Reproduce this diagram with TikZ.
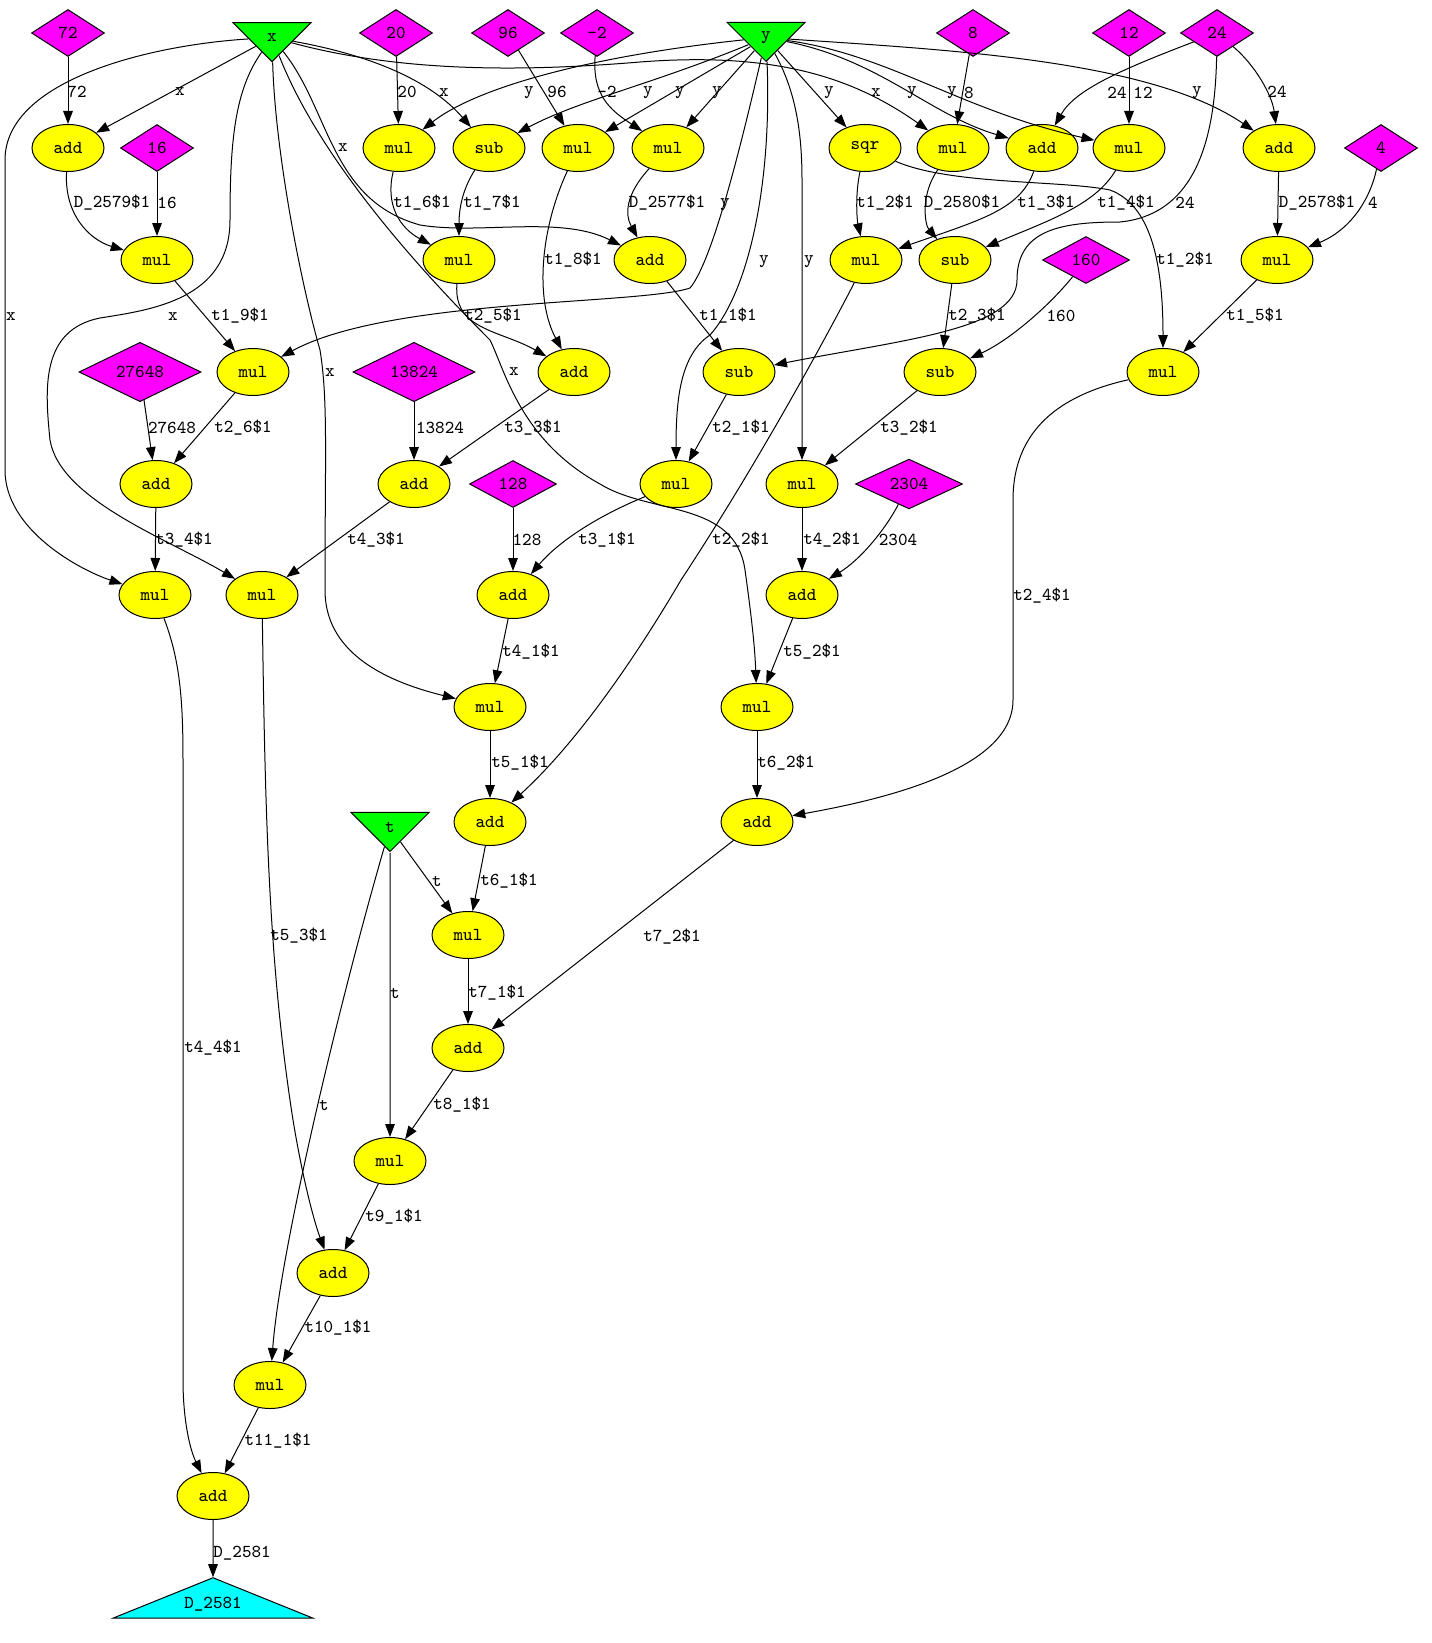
\documentclass[tikz,border=0pt]{standalone}
\usepackage{fontspec}
\usepackage{tikz}
\usetikzlibrary{shapes.geometric, arrows.meta}
\definecolor{gvyellow}{RGB}{255,255,0}
\definecolor{gvmagenta}{RGB}{255,0,255}
\definecolor{gvgreen}{RGB}{0,255,0}
\definecolor{gvcyan}{RGB}{0,255,255}
\newcommand{\gv}{\ttfamily\fontsize{9.1}{10}\selectfont}

\begin{document}
\begin{tikzpicture}
  [
    x=0.5pt, y=-0.5pt, line width=0.5pt,
    >={Triangle[length=6.5pt, width=4.8pt]},
    Op/.style={ellipse, draw=black, fill=gvyellow, minimum width=36pt, minimum height=23.5pt, inner sep=0pt, font=\gv},
    Const/.style={diamond, draw=black, fill=gvmagenta, minimum width=36.5pt, minimum height=23.5pt, inner sep=0pt, font=\gv},
    Input/.style={isosceles triangle, isosceles triangle stretches, shape border rotate=270, draw=black, fill=gvgreen, minimum width=39pt, minimum height=19.5pt, inner sep=0pt, font=\gv},
    Output/.style={isosceles triangle, isosceles triangle apex angle=136, shape border rotate=90, draw=black, fill=gvcyan, minimum width=100pt, inner sep=0pt, font=\gv},
    Lbl/.style={inner sep=0pt, font=\gv}
  ]
  \useasboundingbox (0,0) rectangle (1431,1643);
  % Nodes
  \node[Input] (x) at (272,37.5) {x};
  \node[Input] (y) at (766,37.5) {y};
  \node[Const] (c72) at (68,33) {72};
  \node[Const] (c20) at (396,33) {20};
  \node[Const] (c96) at (508,33) {96};
  \node[Const] (cm2) at (597,33) {-2};
  \node[Const] (c8) at (973,33) {8};
  \node[Const] (c12) at (1129,33) {12};
  \node[Const] (c24) at (1217,33) {24};

  \node[Op] (d2579) at (68,148) {add};
  \node[Const] (c16) at (157,148) {16};
  \node[Op] (t16) at (399,148) {mul};
  \node[Op] (t17) at (489,148) {sub};
  \node[Op] (t18) at (578,148) {mul};
  \node[Op] (d2577) at (668,148) {mul};
  \node[Op] (t12) at (865,148) {sqr};
  \node[Op] (d2580) at (953,148) {mul};
  \node[Op] (t13) at (1042,148) {add};
  \node[Op] (t14) at (1129,148) {mul};
  \node[Op] (d2578) at (1279,148) {add};
  \node[Const] (c4) at (1381,148) {4};

  \node[Op] (t19) at (157,260) {mul};
  \node[Op] (t25) at (459,260) {mul};
  \node[Op] (t11) at (650,260) {add};
  \node[Op] (t22) at (866,260) {mul};
  \node[Op] (t23) at (955,260) {sub};
  \node[Const, minimum width=43.5pt] (c160) at (1086,260) {160};
  \node[Op] (t15) at (1277,260) {mul};

  \node[Const, minimum width=61pt] (c27648) at (140,372) {27648};
  \node[Op] (t26) at (253,372) {mul};
  \node[Const, minimum width=61pt] (c13824) at (414,372) {13824};
  \node[Op] (t33) at (574,372) {add};
  \node[Op] (t21) at (739,372) {sub};
  \node[Op] (t32) at (940,372) {sub};
  \node[Op] (t24) at (1163,372) {mul};

  \node[Op] (t34) at (156,484) {add};
  \node[Op] (t43) at (414,484) {add};
  \node[Const, minimum width=43.5pt] (c128) at (513,484) {128};
  \node[Op] (t31) at (676,484) {mul};
  \node[Op] (t42) at (802,484) {mul};
  \node[Const, minimum width=53.5pt] (c2304) at (909,484) {2304};

  \node[Op] (t44) at (155,595) {mul};
  \node[Op] (t53) at (262,595) {mul};
  \node[Op] (t41) at (513,595) {add};
  \node[Op] (t52) at (802,595) {add};

  \node[Op] (t51) at (490,707) {mul};
  \node[Op] (t62) at (757,707) {mul};

  \node[Input] (t) at (390,827.5) {t};
  \node[Op] (t61) at (490,822) {add};
  \node[Op] (t72) at (757,822) {add};
  \node[Op] (t71) at (468,935) {mul};
  \node[Op] (t81) at (468,1048) {add};
  \node[Op] (t91) at (390,1161) {mul};
  \node[Op] (t101) at (333,1273) {add};
  \node[Op] (t111) at (270,1385) {mul};
  \node[Op] (d2581) at (213,1496) {add};
  \node[Output] (out) at (213,1604) {D\_2581};

  % Lines
  \path [->, draw] (c72) -- (d2579) node[Lbl] at (77,92) {72};
  \path [->, draw] (x) -- (d2579) node[Lbl] at (180,92) {x};
  \path [->, draw] (d2579) .. controls (64,215) and (90,240) .. (t19) node[Lbl] at (112,203) {D\_2579\$1};
  \path [->, draw] (c16) -- (t19) node[Lbl] at (167,203) {16};
  \path [->, draw] (t19) -- (t26) node[Lbl] at (240,316) {t1\_9\$1};
  \path [->, draw] (y) .. controls (740,150) and (712,262) .. (690,288) .. controls (640,305) and (390,298) .. (t26) node[Lbl] at (725,205) {y};
  \path [->, draw] (c20) -- (t16) node[Lbl] at (407,92) {20};
  \path [->, draw] (y) .. controls (600,55) and (480,85) .. (t16) node[Lbl] at (529,93) {y};
  \path [->, draw] (x) .. controls (370,55) and (430,80) .. (t17) node[Lbl] at (444,93) {x};
  \path [->, draw] (x) .. controls (400,72) and (520,72) .. (640,62) .. controls (770,52) and (850,75) .. (d2580) node[Lbl] at (876,93) {x};
  \path [->, draw] (y) .. controls (650,85) and (580,100) .. (t17) node[Lbl] at (648,93) {y};
  \path [->, draw] (c96) -- (t18) node[Lbl] at (557,92) {96};
  \path [->, draw] (y) -- (t18) node[Lbl] at (680,93) {y};
  \path [->, draw] (cm2) .. controls (592,95) and (610,110) .. (d2577) node[Lbl] at (607,92) {-2};
  \path [->, draw] (y) -- (d2577) node[Lbl] at (717,93) {y};
  \path [->, draw] (y) -- (t12) node[Lbl] at (829,93) {y};
  \path [->, draw] (y) .. controls (880,60) and (930,115) .. (t13) node[Lbl] at (912,93) {y};
  \path [->, draw] (y) .. controls (890,55) and (960,110) .. (t14) node[Lbl] at (952,93) {y};
  \path [->, draw] (y) .. controls (950,50) and (1150,60) .. (d2578) node[Lbl] at (1197,93) {y};
  \path [->, draw] (c8) -- (d2580) node[Lbl] at (969,93) {8};
  \path [->, draw] (c12) -- (t14) node[Lbl] at (1143,93) {12};
  \path [->, draw] (c24) .. controls (1120,70) and (1075,90) .. (t13) node[Lbl] at (1117,93) {24};
  \path [->, draw] (c24) .. controls (1255,65) and (1272,95) .. (d2578) node[Lbl] at (1277,92) {24};
  \path [->, draw] (c24) .. controls (1215,150) and (1190,215) .. (1120,222) .. controls (1060,222) and (1017,230) .. (1017,280) .. controls (1017,330) and (900,340) .. (t21) node[Lbl] at (1185,203) {24};

  \path [->, draw] (t16) .. controls (385,205) and (400,228) .. (t25) node[Lbl] at (422,203) {t1\_6\$1};
  \path [->, draw] (t17) .. controls (462,190) and (459,210) .. (t25) node[Lbl] at (492,203) {t1\_7\$1};
  \path [->, draw] (x) .. controls (330,110) and (330,200) .. (420,225) .. controls (480,235) and (560,215) .. (t11) node[Lbl] at (343,148) {x};
  \path [->, draw] (t18) .. controls (540,230) and (535,300) .. (t33) node[Lbl] at (573,260) {t1\_8\$1};
  \path [->, draw] (d2577) .. controls (625,195) and (625,215) .. (t11) node[Lbl] at (667,203) {D\_2577\$1};
  \path [->, draw] (t12) .. controls (855,195) and (857,220) .. (t22) node[Lbl] at (885,203) {t1\_2\$1};
  \path [->, draw] (t12) .. controls (950,185) and (1060,180) .. (1110,190) .. controls (1150,205) and (1163,260) .. (t24) node[Lbl] at (1185,260) {t1\_2\$1};
  \path [->, draw] (d2580) .. controls (920,195) and (925,225) .. (t23) node[Lbl] at (962,203) {D\_2580\$1};
  \path [->, draw] (t13) .. controls (1020,210) and (980,220) .. (t22) node[Lbl] at (1046,203) {t1\_3\$1};
  \path [->, draw] (t14) .. controls (1095,205) and (1050,220) .. (t23) node[Lbl] at (1126,203) {t1\_4\$1};
  \path [->, draw] (d2578) -- (t15) node[Lbl] at (1317,203) {D\_2578\$1};
  \path [->, draw] (c4) .. controls (1370,200) and (1350,230) .. (t15) node[Lbl] at (1373,203) {4};

  \path [->, draw] (t25) .. controls (453,330) and (500,330) .. (t33) node[Lbl] at (493,316) {t2\_5\$1};
  \path [->, draw] (t11) -- (t21) node[Lbl] at (728,316) {t1\_1\$1};
  \path [->, draw] (t22) .. controls (830,330) and (760,460) .. (681,580) .. controls (640,650) and (580,740) .. (t61) node[Lbl] at (741,540) {t2\_2\$1};
  \path [->, draw] (t23) -- (t32) node[Lbl] at (977,316) {t2\_3\$1};
  \path [->, draw] (c160) .. controls (1050,305) and (1010,340) .. (t32) node[Lbl] at (1061,316) {160};
  \path [->, draw] (t15) -- (t24) node[Lbl] at (1255,316) {t1\_5\$1};

  \path [->, draw] (c27648) -- (t34) node[Lbl] at (172,428) {27648};
  \path [->, draw] (t26) -- (t34) node[Lbl] at (243,428) {t2\_6\$1};
  \path [->, draw] (c13824) -- (t43) node[Lbl] at (440,428) {13824};
  \path [->, draw] (t33) -- (t43) node[Lbl] at (533,428) {t3\_3\$1};
  \path [->, draw] (t21) -- (t31) node[Lbl] at (741,428) {t2\_1\$1};
  \path [->, draw] (y) .. controls (772,180) and (750,290) .. (710,335) .. controls (680,355) and (676,400) .. (t31) node[Lbl] at (764,262) {y};
  \path [->, draw] (y) .. controls (795,90) and (802,130) .. (802,180) -- (t42) node[Lbl] at (809,262) {y};
  \path [->, draw] (t32) -- (t42) node[Lbl] at (909,428) {t3\_2\$1};
  \path [->, draw] (x) .. controls (320,160) and (420,270) .. (490,340) .. controls (505,370) and (520,440) .. (600,484) .. controls (650,515) and (735,500) .. (745,570) .. controls (752,620) and (755,650) .. (t62) node[Lbl] at (514,372) {x};
  \path [->, draw] (x) .. controls (275,150) and (300,280) .. (320,350) .. controls (328,400) and (325,450) .. (325,590) .. controls (325,650) and (380,680) .. (t51) node[Lbl] at (330,373) {x};
  \path [->, draw] (x) .. controls (235,90) and (230,140) .. (230,220) .. controls (230,300) and (150,310) .. (100,318) .. controls (40,330) and (45,390) .. (50,440) .. controls (60,500) and (170,540) .. (t53) node[Lbl] at (173,317) {x};
  \path [->, draw] (x) .. controls (150,45) and (5,80) .. (5,160) -- (5,470) .. controls (5,530) and (80,570) .. (t44) node[Lbl] at (11,317) {x};

  \path [->, draw] (t34) -- (t44) node[Lbl] at (184,540) {t3\_4\$1};
  \path [->, draw] (t43) -- (t53) node[Lbl] at (376,540) {t4\_3\$1};
  \path [->, draw] (t31) .. controls (600,515) and (560,540) .. (t41) node[Lbl] at (607,540) {t3\_1\$1};
  \path [->, draw] (c128) -- (t41) node[Lbl] at (527,540) {128};
  \path [->, draw] (t42) -- (t52) node[Lbl] at (832,540) {t4\_2\$1};
  \path [->, draw] (c2304) .. controls (885,530) and (860,560) .. (t52) node[Lbl] at (898,540) {2304};
  \path [->, draw] (t24) .. controls (1060,395) and (1013,430) .. (1013,500) -- (1013,700) .. controls (1013,770) and (880,800) .. (t72) node[Lbl] at (1042,596) {t2\_4\$1};

  \path [->, draw] (t41) -- (t51) node[Lbl] at (531,652) {t4\_1\$1};
  \path [->, draw] (t52) -- (t62) node[Lbl] at (812,652) {t5\_2\$1};
  \path [->, draw] (t51) -- (t61) node[Lbl] at (520,763) {t5\_1\$1};
  \path [->, draw] (t62) -- (t72) node[Lbl] at (786,763) {t6\_2\$1};

  \path [->, draw] (t) -- (t71) node[Lbl] at (437,881) {t};
  \path [->, draw] (t61) -- (t71) node[Lbl] at (509,881) {t6\_1\$1};
  \path [->, draw] (t) -- (t91) node[Lbl] at (395,993) {t};
  \path [->, draw] (t) .. controls (340,1000) and (280,1250) .. (t111) node[Lbl] at (324,1105) {t};
  \path [->, draw] (t72) -- (t81) node[Lbl] at (672,937) {t7\_2\$1};
  \path [->, draw] (t71) -- (t81) node[Lbl] at (497,993) {t7\_1\$1};
  \path [->, draw] (t81) -- (t91) node[Lbl] at (462,1105) {t8\_1\$1};
  \path [->, draw] (t91) -- (t101) node[Lbl] at (394,1217) {t9\_1\$1};
  \path [->, draw] (t53) .. controls (265,800) and (268,950) .. (290,1100) .. controls (297,1150) and (310,1210) .. (t101) node[Lbl] at (299,936) {t5\_3\$1};
  \path [->, draw] (t101) -- (t111) node[Lbl] at (338,1328) {t10\_1\$1};
  \path [->, draw] (t111) -- (d2581) node[Lbl] at (278,1441) {t11\_1\$1};
  \path [->, draw] (t44) .. controls (180,660) and (183,700) .. (183,760) -- (183,1380) .. controls (183,1420) and (190,1450) .. (d2581) node[Lbl] at (213,1048) {t4\_4\$1};
  \path [->, draw] (d2581) -- (out) node[Lbl] at (242,1553) {D\_2581};
\end{tikzpicture}
\end{document}
